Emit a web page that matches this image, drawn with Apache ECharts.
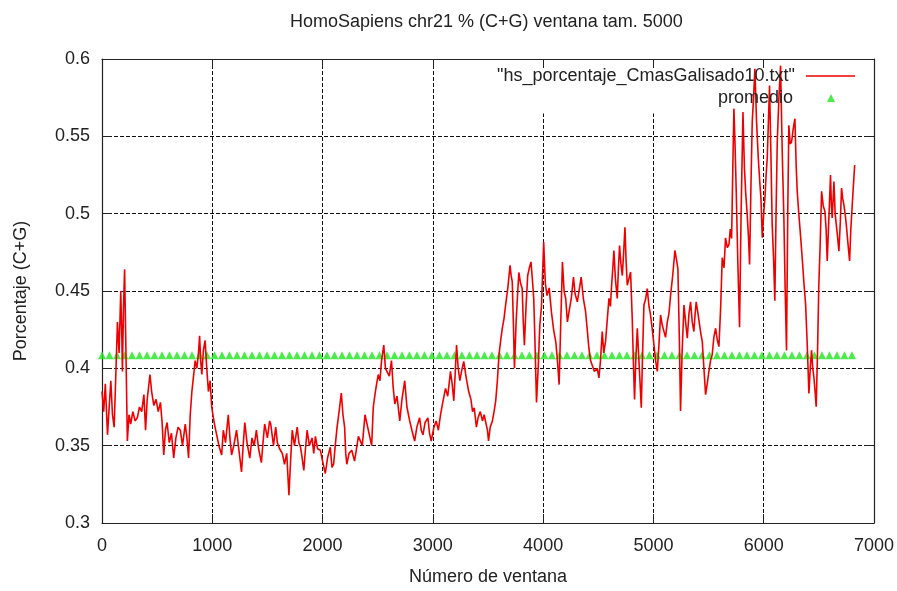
<!DOCTYPE html>
<html>
<head>
<meta charset="utf-8">
<script src="https://cdn.jsdelivr.net/npm/echarts@6/dist/echarts.min.js"></script>
<style>
html,body{margin:0;padding:0;background:#fff;}
#chart{width:897px;height:591px;}
</style>
</head>
<body>
<div id="chart"></div>
<script>
// ---- data: [window number, fraction C+G] ----
const seg1 = [[0,.385],[15,.372],[30,.390],[50,.357],[65,.375],[80,.392],[95,.370],[110,.362],[125,.395],[140,.430],[155,.410],[170,.450],[180,.420],[185,.398],[195,.440],[205,.464],[215,.420],[230,.353],[245,.370],[260,.364],[280,.372],[300,.366],[320,.368],[340,.375],[360,.372],[380,.383],[395,.360],[410,.380],[435,.396],[450,.385],[470,.376],[490,.380],[510,.372],[530,.378],[545,.365],[560,.344],[575,.360],[590,.365],[610,.352],[630,.358],[650,.342],[670,.355],[690,.362],[710,.360],[730,.350],[755,.364],[770,.355],[785,.342],[800,.370],[815,.385],[830,.395],[845,.405],[860,.400],[875,.410],[885,.421],[895,.405],[905,.396],[920,.412],[935,.418],[950,.400],[965,.385],[980,.392],[995,.375],[1010,.368],[1025,.362],[1040,.357],[1060,.350],[1085,.344],[1100,.360],[1120,.352],[1145,.370],[1160,.355],[1175,.344],[1195,.350],[1220,.360],[1240,.348],[1265,.333],[1280,.350],[1295,.365],[1315,.352],[1340,.342],[1360,.355],[1380,.350],[1400,.360],[1420,.348],[1445,.339],[1460,.352],[1475,.364],[1500,.355],[1520,.366]];
const seg2 = [[1530,.364],[1555,.350],[1575,.362],[1590,.352],[1610,.348],[1635,.345],[1655,.338],[1675,.345],[1695,.318],[1710,.340],[1725,.360],[1745,.350],[1770,.362],[1785,.352],[1800,.349],[1815,.342],[1830,.334],[1845,.348],[1860,.360],[1880,.350],[1905,.355],[1920,.345],[1935,.356],[1955,.348],[1980,.347],[2000,.340],[2025,.332],[2045,.342],[2070,.349],[2085,.336],[2100,.338],[2115,.350],[2130,.361],[2150,.372],[2170,.384],[2185,.370],[2200,.362],[2210,.345],[2220,.338],[2240,.345],[2265,.347],[2290,.340],[2310,.349],[2325,.356],[2340,.357],[2360,.350],[2385,.370],[2400,.365],[2415,.364],[2430,.355],[2445,.350],[2460,.375],[2475,.383],[2490,.390],[2505,.396],[2520,.392],[2535,.405],[2555,.415],[2570,.400],[2585,.399],[2605,.395],[2625,.405],[2640,.388],[2655,.377],[2675,.382],[2700,.366],[2720,.380],[2745,.392],[2765,.375],[2790,.366],[2810,.360],[2835,.353],[2855,.362],[2880,.368],[2895,.360],[2910,.357],[2930,.365],[2955,.368],[2970,.358],[2985,.353]];
const seg3 = [[3010,.362],[3030,.366],[3050,.360],[3070,.370],[3090,.378],[3115,.387],[3135,.382],[3160,.398],[3175,.390],[3190,.379],[3205,.400],[3215,.415],[3230,.400],[3245,.392],[3260,.398],[3280,.4045],[3300,.395],[3325,.385],[3345,.380],[3360,.372],[3375,.3745],[3395,.362],[3410,.368],[3430,.372],[3450,.366],[3465,.370],[3480,.370],[3495,.360],[3505,.353],[3520,.362],[3540,.366],[3555,.372],[3570,.379],[3585,.392],[3600,.409],[3615,.418],[3630,.426],[3645,.432],[3660,.441],[3680,.452],[3700,.4666],[3710,.460],[3720,.456],[3730,.430],[3740,.400],[3755,.430],[3770,.450],[3780,.462],[3795,.455],[3810,.4516],[3820,.430],[3830,.415],[3845,.440],[3860,.460],[3875,.465],[3890,.4688],[3905,.455],[3915,.445],[3925,.420],[3940,.378],[3955,.400],[3970,.428],[3985,.440],[4005,.4816],[4020,.455],[4035,.447],[4055,.452],[4075,.4366],[4095,.425],[4115,.417],[4130,.405],[4145,.3895],[4160,.430],[4175,.4688],[4190,.450],[4205,.445],[4220,.430],[4235,.4366],[4255,.445],[4275,.459],[4290,.448],[4310,.443],[4330,.452],[4345,.459],[4365,.445],[4385,.4366],[4400,.425],[4415,.413],[4430,.405],[4445,.402],[4465,.398],[4490,.400]];
const seg4 = [[4506,.3938],[4520,.405],[4536,.4238],[4550,.410],[4566,.4174],[4580,.430],[4597,.4452],[4610,.440],[4621,.4537],[4632,.465],[4642,.4762],[4655,.458],[4672,.4452],[4683,.465],[4693,.4794],[4705,.468],[4718,.460],[4730,.475],[4742,.4912],[4752,.470],[4763,.4537],[4778,.458],[4793,.4623],[4808,.4323],[4818,.405],[4829,.3799],[4840,.405],[4854,.4259],[4865,.410],[4878,.392],[4890,.3745],[4902,.410],[4914,.4409],[4930,.445],[4944,.4516],[4960,.440],[4974,.4345],[4990,.425],[5005,.4152],[5020,.405],[5035,.398],[5050,.415],[5065,.4345],[5080,.428],[5095,.428],[5110,.420],[5126,.430],[5140,.435],[5156,.4473],[5175,.460],[5195,.4762],[5210,.470],[5222,.4645],[5235,.420],[5246,.3724],[5260,.410],[5277,.4409],[5292,.430],[5307,.4195],[5322,.435],[5337,.443],[5352,.430],[5367,.4238],[5378,.435],[5388,.443],[5405,.435],[5419,.428],[5431,.422],[5443,.4174],[5458,.400],[5473,.383],[5488,.390],[5503,.398],[5518,.405],[5533,.4088],[5548,.420],[5564,.4259],[5580,.418],[5594,.414]];
const seg5 = [[5610,.440],[5624,.4715],[5640,.465],[5654,.4844],[5670,.478],[5685,.480],[5697,.490],[5709,.484],[5720,.530],[5730,.5679],[5740,.545],[5751,.5144],[5765,.470],[5781,.4266],[5795,.500],[5812,.5657],[5825,.530],[5836,.5144],[5850,.500],[5862,.485],[5872,.4672],[5885,.520],[5896,.5593],[5908,.575],[5920,.5936],[5935,.560],[5951,.5358],[5965,.520],[5975,.510],[5987,.4844],[6000,.500],[6011,.510],[6022,.525],[6032,.5358],[6043,.560],[6053,.5829],[6065,.540],[6077,.4929],[6090,.470],[6101,.4437],[6112,.500],[6123,.5465],[6138,.575],[6153,.5957],[6168,.540],[6183,.4972],[6195,.450],[6207,.4116],[6218,.500],[6228,.5572],[6240,.545],[6253,.5465],[6268,.555],[6283,.5614],[6295,.530],[6304,.5144],[6319,.4993],[6335,.485],[6349,.4715],[6365,.455],[6380,.4415],[6395,.415],[6410,.3837],[6422,.400],[6434,.4116],[6445,.400],[6455,.3944],[6466,.385],[6476,.3752],[6488,.410],[6500,.4544],[6512,.480],[6525,.5144],[6540,.505],[6555,.5015],[6566,.490],[6576,.4694],[6590,.495],[6606,.525],[6614,.505],[6621,.4972],[6630,.510],[6637,.5208],[6648,.500],[6658,.4929],[6670,.485],[6682,.4758],[6695,.495],[6706,.5165],[6716,.510],[6727,.5058],[6738,.500],[6749,.4929],[6765,.480],[6779,.4694],[6790,.490],[6803,.5058],[6815,.520],[6825,.5315]];

const promedioValue = 0.4085;     // constant average
const promedioStep = 68;          // marker every 68 windows
const promedioLastWindow = 6800;

const lineName = '"hs_porcentaje_CmasGalisado10.txt"';
const avgName = 'promedio';
const titleText = 'HomoSapiens chr21 % (C+G) ventana tam. 5000';
const xName = 'Número de ventana';
const yName = 'Porcentaje (C+G)';

// ---- build ----
const lineData = seg1.concat(seg2, seg3, seg4, seg5);
const avgData = [];
for (let w = 0; w <= promedioLastWindow; w += promedioStep) avgData.push([w, promedioValue]);

const FONT = '"Liberation Sans", Arial, sans-serif';
const TXT = '#222';
const RED = '#ee0000';
const GREEN = '#1ee61e';
const frameLine = { color: '#222', width: 1.2 };

const chart = echarts.init(document.getElementById('chart'), null, { renderer: 'canvas' });
chart.setOption({
  animation: false,
  backgroundColor: '#fff',
  title: {
    text: titleText, left: 290, top: 13, padding: 0,
    textStyle: { fontFamily: FONT, fontSize: 18, fontWeight: 'normal', color: TXT }
  },
  grid: { left: 102, right: 23, top: 59, bottom: 64, containLabel: false },
  legend: [
    {
      data: [{ name: lineName, icon: 'rect' }], right: 42, top: 67, align: 'right', orient: 'vertical',
      itemWidth: 49, itemHeight: 1.5, padding: 0,
      textStyle: { fontFamily: FONT, fontSize: 18, color: TXT, padding: [0, 6, 0, 0] }
    },
    {
      data: [{ name: avgName, icon: 'triangle' }], right: 62, top: 89, align: 'right', orient: 'vertical',
      itemWidth: 8, itemHeight: 8, padding: 0,
      textStyle: { fontFamily: FONT, fontSize: 18, color: TXT, padding: [0, 29, 0, 0] }
    }
  ],
  graphic: [
    { type: 'rect', z: 1, silent: true, shape: { x: 485, y: 60.5, width: 378, height: 53 }, style: { fill: '#fff' } }
  ],
  xAxis: [
    {
      type: 'value', min: 0, max: 7000, interval: 1000, position: 'bottom',
      name: xName, nameLocation: 'middle', nameGap: 45,
      nameTextStyle: { fontFamily: FONT, fontSize: 18, color: TXT },
      axisLine: { show: true, onZero: false, lineStyle: frameLine },
      axisTick: { show: true, inside: true, length: 9, lineStyle: { color: '#222' } },
      axisLabel: { margin: 14, fontFamily: FONT, fontSize: 18, color: TXT, formatter: v => String(v) },
      splitLine: { show: true, showMinLine: false, showMaxLine: false, lineStyle: { color: '#111', type: [4, 2], width: 1 } }
    },
    {
      type: 'value', min: 0, max: 7000, interval: 1000, position: 'top', z: 3,
      axisLine: { show: true, onZero: false, lineStyle: frameLine },
      axisTick: { show: true, inside: true, length: 9, lineStyle: { color: '#222' } },
      axisLabel: { show: false }, splitLine: { show: false }
    }
  ],
  yAxis: [
    {
      type: 'value', min: 0.3, max: 0.6, interval: 0.05, position: 'left',
      name: yName, nameLocation: 'middle', nameGap: 72, nameRotate: 90,
      nameTextStyle: { fontFamily: FONT, fontSize: 18, color: TXT },
      axisLine: { show: true, onZero: false, lineStyle: frameLine },
      axisTick: { show: true, inside: true, length: 9, lineStyle: { color: '#222' } },
      axisLabel: { margin: 12, fontFamily: FONT, fontSize: 18, color: TXT },
      splitLine: { show: true, showMinLine: false, showMaxLine: false, lineStyle: { color: '#111', type: [4, 2], width: 1 } }
    },
    {
      type: 'value', min: 0.3, max: 0.6, interval: 0.05, position: 'right', z: 3,
      axisLine: { show: true, onZero: false, lineStyle: frameLine },
      axisTick: { show: true, inside: true, length: 9, lineStyle: { color: '#222' } },
      axisLabel: { show: false }, splitLine: { show: false }
    }
  ],
  series: [
    {
      name: lineName, type: 'line', xAxisIndex: 0, yAxisIndex: 0,
      data: lineData, symbol: 'none', showSymbol: false,
      lineStyle: { color: RED, width: 1.6 }, itemStyle: { color: RED },
      z: 3
    },
    {
      name: avgName, type: 'scatter', xAxisIndex: 0, yAxisIndex: 0,
      data: avgData, symbol: 'triangle', symbolSize: [8, 8],
      itemStyle: { color: GREEN }, z: 2
    }
  ]
});
</script>
</body>
</html>
